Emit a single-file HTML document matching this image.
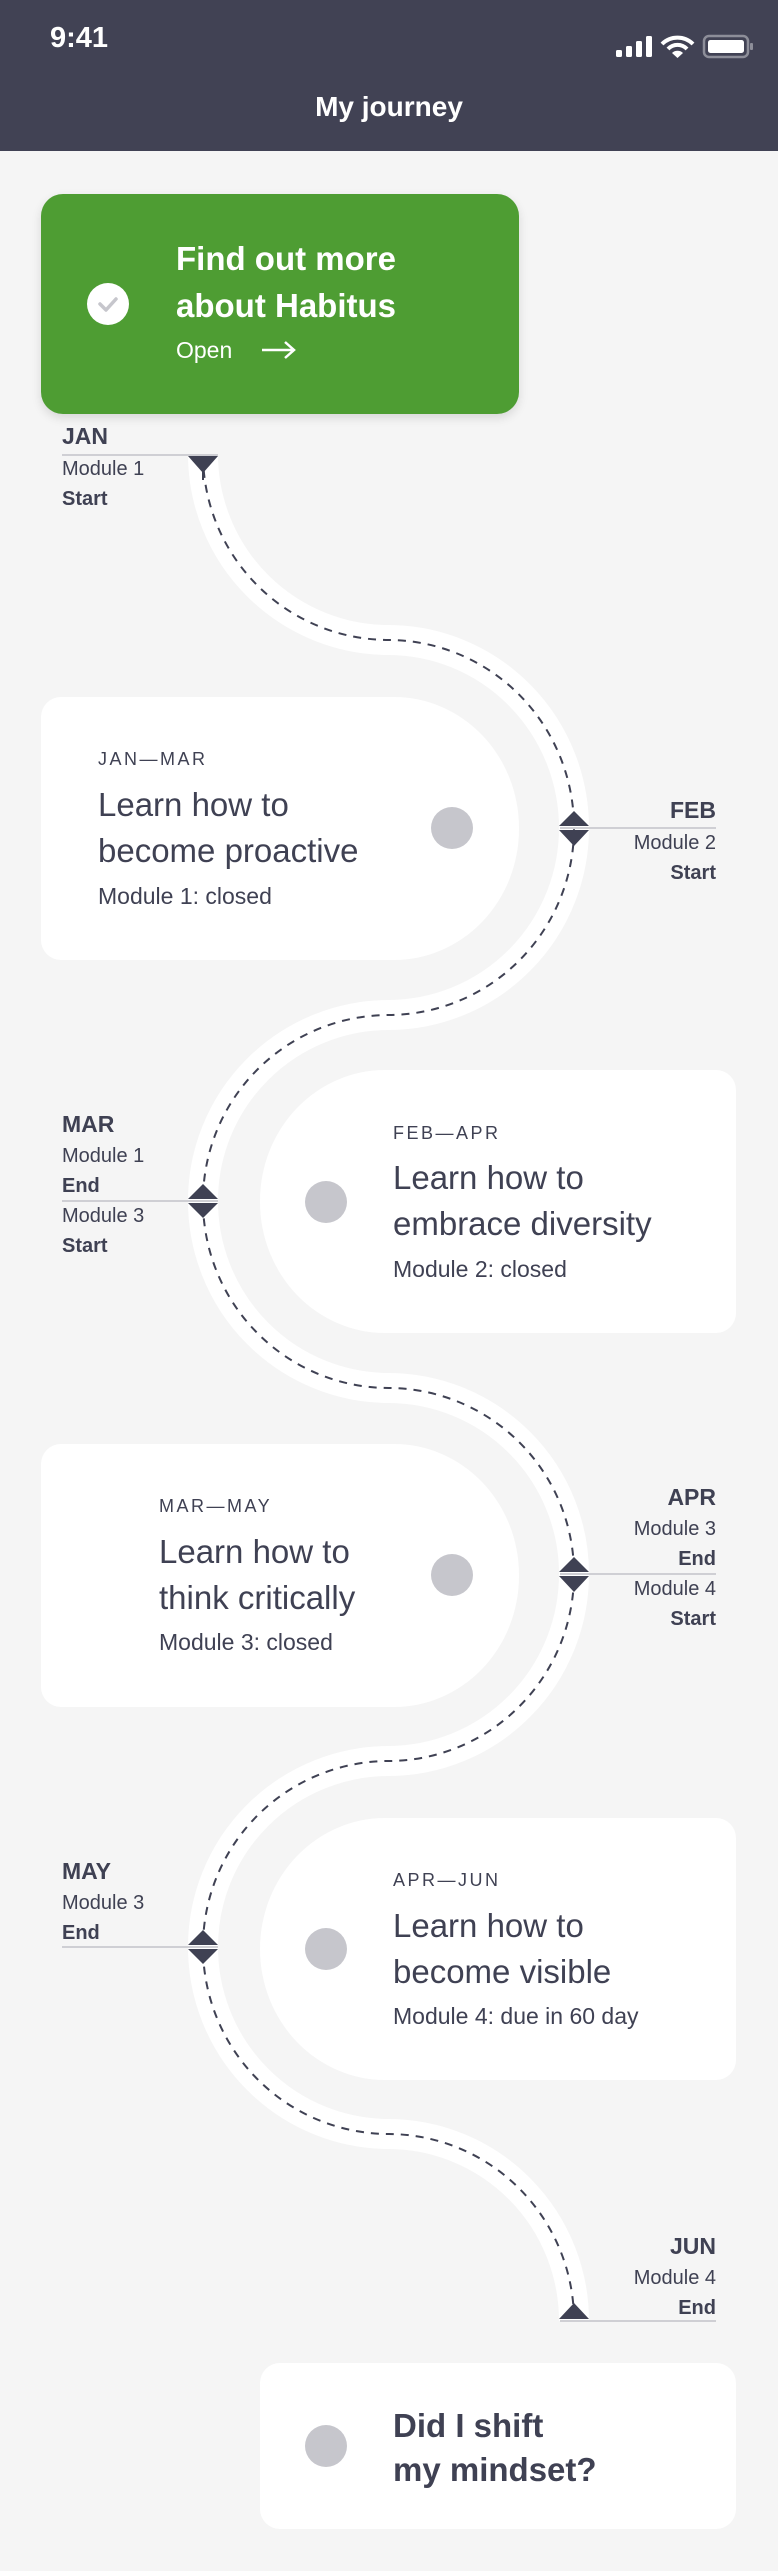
<!DOCTYPE html>
<html><head><meta charset="utf-8">
<style>
*{margin:0;padding:0;box-sizing:border-box}
body{width:778px;height:2571px;background:#f5f5f5;position:relative;overflow:hidden;font-family:"Liberation Sans",sans-serif;color:#3f4153}
.hdr{position:absolute;left:0;top:0;width:778px;height:151px;background:#414254}
.t{position:absolute;white-space:nowrap}
.card{position:absolute;background:#fff}
.dot{position:absolute;width:42px;height:42px;border-radius:50%;background:#c6c6cc}
.lbl{position:absolute;font-size:20px;line-height:30px;white-space:nowrap}
.lbl b{font-size:20px}
.lbl .m{font-size:23px;font-weight:bold}
.r{text-align:right}
.sm{font-size:18px;letter-spacing:2.5px}
.h{font-size:33px;line-height:46px}
.s{font-size:23px}
</style></head><body>
<div class="hdr"></div>
<div class="t" style="left:50px;top:20px;font-size:29px;font-weight:bold;color:#fff;line-height:36px">9:41</div>
<svg style="position:absolute;left:0;top:0" width="778" height="151">
<rect x="616" y="50" width="6" height="7" rx="1.5" fill="#fff"/>
<rect x="626" y="46" width="6" height="11" rx="1.5" fill="#fff"/>
<rect x="636" y="41" width="6" height="16" rx="1.5" fill="#fff"/>
<rect x="646" y="36" width="6" height="21" rx="1.5" fill="#fff"/>
<path d="M662,44 A22,22 0 0 1 693,44" stroke="#fff" stroke-width="4" fill="none"/>
<path d="M668,49 A13,13 0 0 1 687,49" stroke="#fff" stroke-width="4" fill="none"/>
<path d="M672,53 L677.5,58 L683,53 A8,8 0 0 0 672,53Z" fill="#fff"/>
<rect x="704" y="36" width="44" height="21" rx="5" fill="none" stroke="#8d8e99" stroke-width="2.5"/>
<rect x="708" y="40" width="36" height="13" rx="2.5" fill="#fff"/>
<rect x="750" y="43" width="3" height="7" rx="1" fill="#8d8e99"/>
</svg>
<div class="t" style="left:0;width:778px;text-align:center;top:89px;font-size:28px;font-weight:bold;color:#fff;line-height:36px">My journey</div>

<div class="card" style="left:41px;top:194px;width:478px;height:220px;background:#4e9d33;border-radius:22px;box-shadow:0 4px 10px rgba(0,0,0,0.12)"></div>
<div style="position:absolute;left:87px;top:283px;width:42px;height:42px;border-radius:50%;background:#fff"></div>
<svg style="position:absolute;left:87px;top:283px" width="42" height="42"><path d="M13,21 L19,27 L29,16" stroke="#c6c6cc" stroke-width="3.5" fill="none" stroke-linecap="round" stroke-linejoin="round"/></svg>
<div class="t" style="left:176px;top:235px;font-size:33px;line-height:47px;font-weight:bold;color:#fff">Find out more<br>about Habitus</div>
<div class="t" style="left:176px;top:335px;font-size:23px;line-height:30px;color:#fff">Open</div>
<svg style="position:absolute;left:260px;top:338px" width="40" height="24"><path d="M2,12 H34 M25,4 L34,12 L25,20" stroke="#fff" stroke-width="2.5" fill="none"/></svg>

<svg style="position:absolute;left:0;top:0" width="778" height="2571">
<path id="p" d="M203,455 A186,186 0 0 0 389,640 A186,188 0 0 1 574,828 A186,187 0 0 1 389,1015 A186,186 0 0 0 203,1201 A186,187 0 0 0 389,1388 A186,186 0 0 1 574,1574 A186,187 0 0 1 389,1761 A186,186 0 0 0 203,1947 A186,187 0 0 0 389,2134 A186,187 0 0 1 574,2321" stroke="#fff" stroke-width="30" fill="none"/>
<path d="M203,455 A186,186 0 0 0 389,640 A186,188 0 0 1 574,828 A186,187 0 0 1 389,1015 A186,186 0 0 0 203,1201 A186,187 0 0 0 389,1388 A186,186 0 0 1 574,1574 A186,187 0 0 1 389,1761 A186,186 0 0 0 203,1947 A186,187 0 0 0 389,2134 A186,187 0 0 1 574,2321" stroke="#3f4153" stroke-width="2" stroke-dasharray="8 7" fill="none"/>
<g stroke="#cfcfd4" stroke-width="2">
<line x1="62" y1="455" x2="218" y2="455"/>
<line x1="560" y1="828" x2="716" y2="828"/>
<line x1="62" y1="1201" x2="218" y2="1201"/>
<line x1="560" y1="1574" x2="716" y2="1574"/>
<line x1="62" y1="1947" x2="218" y2="1947"/>
<line x1="560" y1="2321" x2="716" y2="2321"/>
</g>
<g fill="#3f4153">
<polygon points="188,456 218,456 203,473"/>
<line x1="203" y1="456" x2="203" y2="480" stroke="#3f4153" stroke-width="2"/>
<polygon points="559,826 589,826 574,811"/><polygon points="559,830 589,830 574,846"/>
<polygon points="188,1199 218,1199 203,1184"/><polygon points="188,1203 218,1203 203,1218"/>
<polygon points="559,1572 589,1572 574,1557"/><polygon points="559,1576 589,1576 574,1592"/>
<polygon points="188,1945 218,1945 203,1930"/><polygon points="188,1949 218,1949 203,1964"/>
<polygon points="559,2319 589,2319 574,2303"/>
</g>
</svg>

<div class="lbl" style="left:62px;top:421px"><span class="m">JAN</span><br><br></div>
<div class="lbl" style="left:62px;top:454px">Module 1<br><b>Start</b></div>
<div class="lbl r" style="right:62px;top:795px"><span class="m">FEB</span></div>
<div class="lbl r" style="right:62px;top:828px">Module 2<br><b>Start</b></div>
<div class="lbl" style="left:62px;top:1109px"><span class="m">MAR</span><br>Module 1<br><b>End</b></div>
<div class="lbl" style="left:62px;top:1201px">Module 3<br><b>Start</b></div>
<div class="lbl r" style="right:62px;top:1482px"><span class="m">APR</span><br>Module 3<br><b>End</b></div>
<div class="lbl r" style="right:62px;top:1574px">Module 4<br><b>Start</b></div>
<div class="lbl" style="left:62px;top:1856px"><span class="m">MAY</span><br>Module 3<br><b>End</b></div>
<div class="lbl r" style="right:62px;top:2231px"><span class="m">JUN</span><br>Module 4<br><b>End</b></div>

<div class="card" style="left:41px;top:697px;width:478px;height:263px;border-radius:20px 125px 125px 20px / 20px 131px 131px 20px"></div>
<div class="dot" style="left:431px;top:807px"></div>
<div class="t sm" style="left:98px;top:748px;line-height:22px">JAN—MAR</div>
<div class="t h" style="left:98px;top:782px">Learn how to<br>become proactive</div>
<div class="t s" style="left:98px;top:881px;line-height:30px">Module 1: closed</div>

<div class="card" style="left:260px;top:1070px;width:476px;height:263px;border-radius:125px 20px 20px 125px / 131px 20px 20px 131px"></div>
<div class="dot" style="left:305px;top:1181px"></div>
<div class="t sm" style="left:393px;top:1122px;line-height:22px">FEB—APR</div>
<div class="t h" style="left:393px;top:1155px">Learn how to<br>embrace diversity</div>
<div class="t s" style="left:393px;top:1254px;line-height:30px">Module 2: closed</div>

<div class="card" style="left:41px;top:1444px;width:478px;height:263px;border-radius:20px 125px 125px 20px / 20px 131px 131px 20px"></div>
<div class="dot" style="left:431px;top:1554px"></div>
<div class="t sm" style="left:159px;top:1495px;line-height:22px">MAR—MAY</div>
<div class="t h" style="left:159px;top:1529px">Learn how to<br>think critically</div>
<div class="t s" style="left:159px;top:1627px;line-height:30px">Module 3: closed</div>

<div class="card" style="left:260px;top:1818px;width:476px;height:262px;border-radius:125px 20px 20px 125px / 131px 20px 20px 131px"></div>
<div class="dot" style="left:305px;top:1928px"></div>
<div class="t sm" style="left:393px;top:1869px;line-height:22px">APR—JUN</div>
<div class="t h" style="left:393px;top:1903px">Learn how to<br>become visible</div>
<div class="t s" style="left:393px;top:2001px;line-height:30px">Module 4: due in 60 day</div>

<div class="card" style="left:260px;top:2363px;width:476px;height:166px;border-radius:20px"></div>
<div class="dot" style="left:305px;top:2425px"></div>
<div class="t h" style="left:393px;top:2404px;font-weight:bold;line-height:44px">Did I shift<br>my mindset?</div>
</body></html>
